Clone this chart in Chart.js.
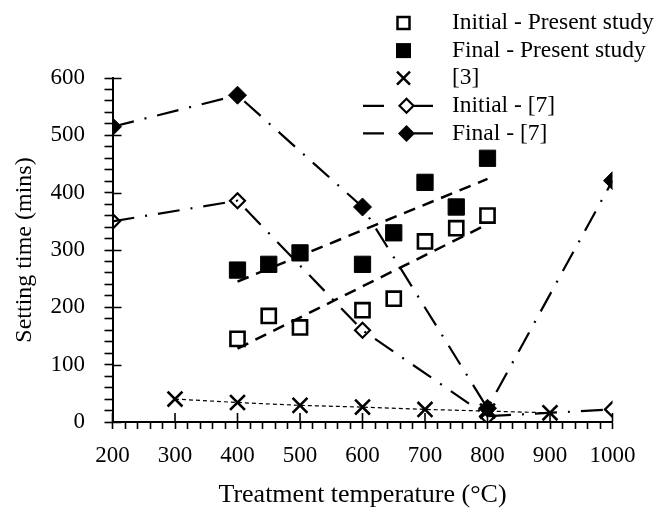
<!DOCTYPE html>
<html>
<head>
<meta charset="utf-8">
<script src="https://cdn.jsdelivr.net/npm/chart.js@4.4.0/dist/chart.umd.min.js"></script>
<style>
html,body{margin:0;padding:0;background:#fff;}
#wrap{width:661px;height:513px;}
</style>
</head>
<body>
<div id="wrap"><canvas id="c" width="661" height="513"></canvas></div>
<script>
// ---- Data ----
const presentTemps   = [400, 450, 500, 600, 650, 700, 750, 800];
const initialPresent = [145, 185, 165, 195, 215, 315, 338, 360];
const finalPresent   = [265, 275, 295, 275, 330, 418, 375, 460];

const trendTemps     = [400, 800];
const initialTrend   = [128, 345];
const finalTrend     = [245, 424];

const ref3Temps      = [300, 400, 500, 600, 700, 800, 900];
const ref3Values     = [40, 34, 29, 26, 22, 19, 16];

const ref7Temps      = [200, 400, 600, 800, 1000];
const ref7Initial    = [350, 386, 160, 10, 22];
const ref7Final      = [515, 570, 375, 24, 421];

const legendLabels   = ['Initial - Present study', 'Final - Present study', '[3]', 'Initial - [7]', 'Final - [7]'];
const xTitle = 'Treatment temperature (°C)';
const yTitle = 'Setting time (mins)';

const FONT = '"Liberation Serif", "DejaVu Serif", serif';
const pts = (xs, ys) => xs.map((x, i) => ({x: x, y: ys[i]}));

Chart.defaults.font.family = FONT;
Chart.defaults.color = '#000';

const dash7 = [22, 11, 2, 11];

const datasets = [
  { label: 'trendInitial', data: pts(trendTemps, initialTrend), showLine: true, borderColor: '#000',
    borderWidth: 2.5, borderDash: [12, 8], pointRadius: 0, order: 10 },
  { label: 'trendFinal', data: pts(trendTemps, finalTrend), showLine: true, borderColor: '#000',
    borderWidth: 2.5, borderDash: [12, 8], pointRadius: 0, order: 10 },
  { label: legendLabels[2], data: pts(ref3Temps, ref3Values), showLine: true, borderColor: '#000',
    borderWidth: 1.2, borderDash: [4, 3], pointStyle: 'crossRot', pointRadius: 10.5,
    pointBorderWidth: 2.6, pointBorderColor: '#000', pointBackgroundColor: 'rgba(0,0,0,0)', order: 5 },
  { label: legendLabels[3], data: pts(ref7Temps, ref7Initial), showLine: true, borderColor: '#000',
    borderWidth: 2.2, borderDash: dash7, pointStyle: 'rectRot', pointRadius: 7.5,
    pointBorderWidth: 2.2, pointBorderColor: '#000', pointBackgroundColor: 'rgba(0,0,0,0)', order: 4 },
  { label: legendLabels[4], data: pts(ref7Temps, ref7Final), showLine: true, borderColor: '#000',
    borderWidth: 2.2, borderDash: dash7, pointStyle: 'rectRot', pointRadius: 9,
    pointBorderWidth: 1, pointBorderColor: '#000', pointBackgroundColor: '#000', order: 3 },
  { label: legendLabels[0], data: pts(presentTemps, initialPresent), showLine: false,
    pointStyle: 'rect', pointRadius: 10, pointBorderWidth: 2.6, pointBorderColor: '#000',
    pointBackgroundColor: 'rgba(0,0,0,0)', order: 2 },
  { label: legendLabels[1], data: pts(presentTemps, finalPresent), showLine: false,
    pointStyle: 'rect', pointRadius: 11.5, pointBorderWidth: 1, pointBorderColor: '#000',
    pointBackgroundColor: '#000', order: 1 }
];

// inner halves of the major tick marks (they cross the axis lines)
const innerTicks = {
  id: 'innerTicks',
  afterDatasetsDraw(chart) {
    const {ctx, scales: {x, y}} = chart;
    ctx.save();
    ctx.strokeStyle = '#000';
    ctx.lineWidth = 1.6;
    ctx.beginPath();
    for (let v = 0; v <= 600; v += 100) {
      const py = Math.round(y.getPixelForValue(v)) + 0.5;
      ctx.moveTo(x.left, py); ctx.lineTo(x.left + 9, py);
    }
    for (let v = 200; v <= 1000; v += 100) {
      const px = x.getPixelForValue(v);
      ctx.moveTo(px, y.bottom); ctx.lineTo(px, y.bottom - 9);
    }
    ctx.stroke();
    ctx.restore();
  }
};

// legend drawn at its place in the top right
const customLegend = {
  id: 'customLegend',
  afterDraw(chart) {
    const ctx = chart.ctx;
    ctx.save();
    ctx.fillStyle = '#000';
    ctx.strokeStyle = '#000';
    ctx.font = '23.5px ' + FONT;
    ctx.textBaseline = 'middle';
    ctx.textAlign = 'left';
    const mx = 403.5;
    legendLabels.forEach((lab, i) => {
      const yy = 23 + i * 27.6;
      ctx.setLineDash([]);
      if (i === 0) {
        ctx.lineWidth = 2.5;
        ctx.strokeRect(mx - 6, yy - 6, 12, 12);
      } else if (i === 1) {
        ctx.fillRect(mx - 7.5, yy - 7.5, 15, 15);
      } else if (i === 2) {
        ctx.lineWidth = 2.5;
        ctx.beginPath();
        ctx.moveTo(mx - 6.5, yy - 6.5); ctx.lineTo(mx + 6.5, yy + 6.5);
        ctx.moveTo(mx + 6.5, yy - 6.5); ctx.lineTo(mx - 6.5, yy + 6.5);
        ctx.stroke();
      } else {
        const dx = 406.5;
        ctx.lineWidth = 2.2;
        ctx.beginPath();
        ctx.moveTo(363, yy); ctx.lineTo(384, yy);
        ctx.moveTo(414, yy); ctx.lineTo(433, yy);
        ctx.stroke();
        const r = i === 3 ? 7 : 8.5;
        ctx.beginPath();
        ctx.moveTo(dx - r, yy); ctx.lineTo(dx, yy - r); ctx.lineTo(dx + r, yy); ctx.lineTo(dx, yy + r);
        ctx.closePath();
        if (i === 3) { ctx.lineWidth = 2.2; ctx.stroke(); } else { ctx.fill(); }
      }
      ctx.fillText(lab, 452, yy);
    });
    ctx.restore();
  }
};

new Chart(document.getElementById('c'), {
  type: 'scatter',
  data: { datasets: datasets },
  options: {
    responsive: false,
    animation: false,
    devicePixelRatio: 1,
    events: [],
    layout: { padding: { left: 0, top: 78, right: 48.5, bottom: 0 } },
    plugins: { legend: { display: false }, tooltip: { enabled: false } },
    elements: { line: { tension: 0 } },
    scales: {
      x: {
        type: 'linear', min: 200, max: 1000,
        afterFit: s => { s.height = 91; },
        ticks: { stepSize: 20, autoSkip: false, maxRotation: 0, padding: 13,
                 font: { size: 23 }, color: '#000',
                 callback: v => (Math.round(v) % 100 === 0 ? String(Math.round(v)) : '') },
        grid: { display: true, drawOnChartArea: false, drawTicks: true, tickLength: 7,
                tickWidth: 1.6, tickColor: '#000' },
        border: { display: true, color: '#000', width: 2 },
        title: { display: true, text: xTitle, font: { size: 26 }, color: '#000',
                 padding: { top: 0, bottom: 2.3 } }
      },
      y: {
        type: 'linear', min: 0, max: 600,
        afterFit: s => { s.width = 112.5; },
        ticks: { stepSize: 20, autoSkip: false, padding: 19.5,
                 font: { size: 23 }, color: '#000',
                 callback: v => (Math.round(v) % 100 === 0 ? String(Math.round(v)) : '') },
        grid: { display: true, drawOnChartArea: false, drawTicks: true, tickLength: 8,
                tickWidth: 1.6, tickColor: '#000' },
        border: { display: true, color: '#000', width: 2 },
        title: { display: true, text: yTitle, font: { size: 24 }, color: '#000',
                 padding: { top: 10.5, bottom: 0 } }
      }
    }
  },
  plugins: [innerTicks, customLegend]
});
</script>
</body>
</html>
